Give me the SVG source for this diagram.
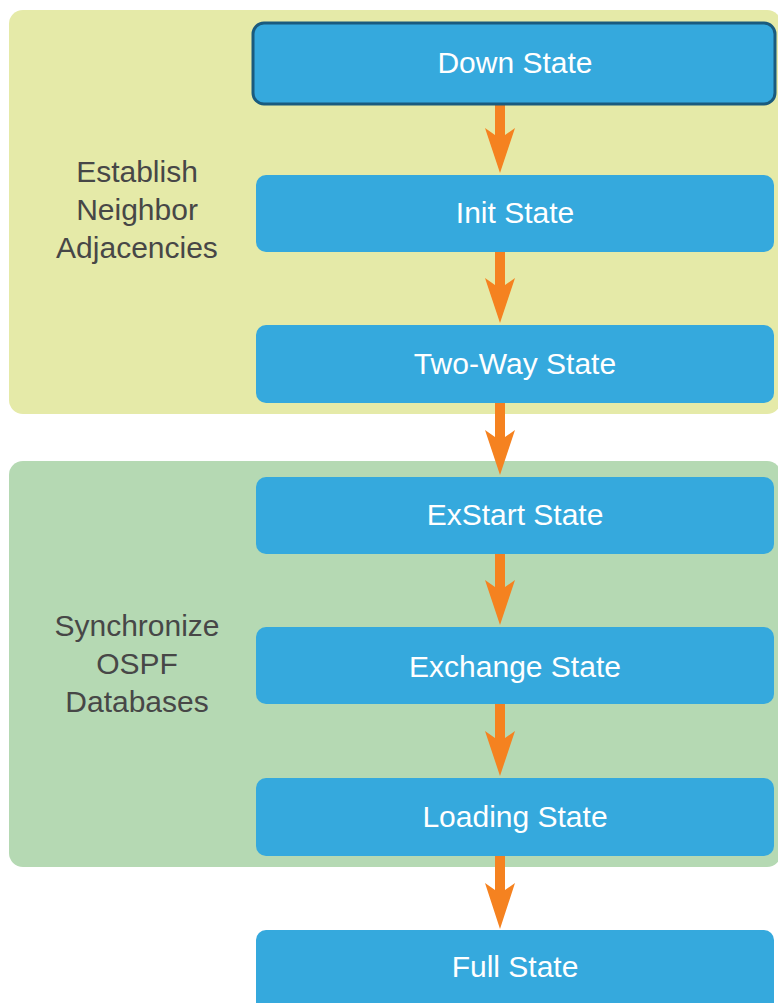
<svg xmlns="http://www.w3.org/2000/svg" width="778" height="1003" viewBox="0 0 778 1003">
<style>
.box{fill:#35A9DD}
.lbl{font-family:"Liberation Sans",Arial,sans-serif;font-size:30px;fill:#ffffff;text-anchor:middle}
.grp{font-family:"Liberation Sans",Arial,sans-serif;font-size:30px;fill:#474747;text-anchor:middle}
.arrow{fill:#F58220}
</style>
<rect width="778" height="1003" fill="#ffffff"/>
<g id="region-establish">
<rect x="9" y="10" width="772" height="404" rx="14" fill="#E5EAA8"/>
<text class="grp" x="137" y="182">Establish</text>
<text class="grp" x="137" y="220">Neighbor</text>
<text class="grp" x="137" y="258">Adjacencies</text>
</g>
<g id="region-sync">
<rect x="9" y="461" width="772" height="406" rx="14" fill="#B5D9B3"/>
<text class="grp" x="137" y="636">Synchronize</text>
<text class="grp" x="137" y="674">OSPF</text>
<text class="grp" x="137" y="712">Databases</text>
</g>
<g id="connectors">
<polygon class="arrow" points="495,104 505,104 505,135 515,128 500,173 485,128 495,135"/>
<polygon class="arrow" points="495,252 505,252 505,285 515,278 500,323 485,278 495,285"/>
<polygon class="arrow" points="495,403 505,403 505,437 515,430 500,475 485,430 495,437"/>
<polygon class="arrow" points="495,554 505,554 505,587 515,580 500,625 485,580 495,587"/>
<polygon class="arrow" points="495,704 505,704 505,738 515,731 500,776 485,731 495,738"/>
<polygon class="arrow" points="495,856 505,856 505,890 515,883 500,929 485,883 495,890"/>
</g>
<g id="node-down">
<rect x="253" y="23" width="522" height="81" rx="11" class="box" stroke="#1A5B7E" stroke-width="3"/>
<text class="lbl" x="515" y="73">Down State</text>
</g>
<g id="node-init">
<rect x="256" y="175" width="518" height="77" rx="10" class="box"/>
<text class="lbl" x="515" y="223">Init State</text>
</g>
<g id="node-twoway">
<rect x="256" y="325" width="518" height="78" rx="10" class="box"/>
<text class="lbl" x="515" y="374">Two-Way State</text>
</g>
<g id="node-exstart">
<rect x="256" y="477" width="518" height="77" rx="10" class="box"/>
<text class="lbl" x="515" y="525">ExStart State</text>
</g>
<g id="node-exchange">
<rect x="256" y="627" width="518" height="77" rx="10" class="box"/>
<text class="lbl" x="515" y="677">Exchange State</text>
</g>
<g id="node-loading">
<rect x="256" y="778" width="518" height="78" rx="10" class="box"/>
<text class="lbl" x="515" y="827">Loading State</text>
</g>
<g id="node-full">
<rect x="256" y="930" width="518" height="85" rx="10" class="box"/>
<text class="lbl" x="515" y="977">Full State</text>
</g>
</svg>
